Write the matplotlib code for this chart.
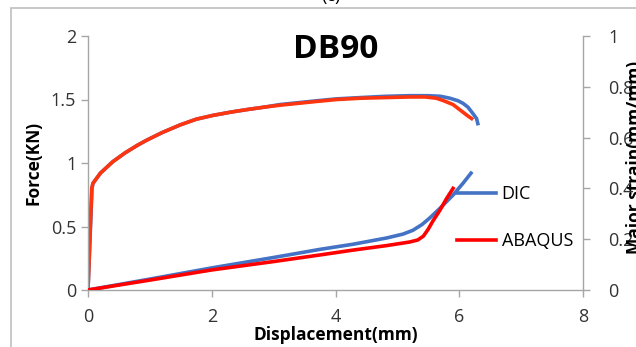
import matplotlib
matplotlib.use("Agg")
import matplotlib.pyplot as plt
from matplotlib.patches import Rectangle
from matplotlib.lines import Line2D

plt.rcParams['font.family'] = ['Open Sans', 'DejaVu Sans']

# Force-displacement curves (KN vs mm)
disp_force_dic = [0.0, 0.065, 0.08, 0.2, 0.4, 0.6, 0.8, 0.95, 1.2, 1.49, 1.75, 2.02, 2.3, 2.56,
                  2.85, 3.1, 3.4, 3.7, 4.02, 4.4, 4.8, 5.2, 5.5, 5.7, 5.85, 5.98, 6.06, 6.14,
                  6.22, 6.28, 6.30]
force_dic = [0.0, 0.80, 0.84, 0.92, 1.01, 1.08, 1.14, 1.18, 1.24, 1.30, 1.345, 1.375, 1.40, 1.42,
             1.44, 1.46, 1.475, 1.49, 1.505, 1.515, 1.525, 1.53, 1.53, 1.525, 1.51, 1.49, 1.47,
             1.44, 1.39, 1.35, 1.31]
disp_force_abaqus = [0.0, 0.06, 0.08, 0.2, 0.4, 0.6, 0.8, 0.95, 1.2, 1.49, 1.75, 2.02, 2.3, 2.56,
                     2.85, 3.1, 3.4, 3.7, 4.02, 4.4, 4.8, 5.2, 5.45, 5.63, 5.75, 5.90, 6.06,
                     6.14, 6.20]
force_abaqus = [0.0, 0.80, 0.84, 0.92, 1.01, 1.08, 1.14, 1.18, 1.24, 1.30, 1.345, 1.375, 1.40, 1.42,
                1.44, 1.455, 1.47, 1.485, 1.50, 1.51, 1.515, 1.52, 1.52, 1.51, 1.49, 1.46, 1.40,
                1.37, 1.35]

# Major strain-displacement curves (mm/mm vs mm)
disp_strain_dic = [0.0, 1.0, 2.0, 3.0, 3.75, 4.28, 4.83, 5.09, 5.25, 5.40, 5.53, 5.69, 5.90, 6.06,
                   6.19]
strain_dic = [0.0, 0.043, 0.087, 0.128, 0.160, 0.180, 0.205, 0.220, 0.235, 0.258, 0.285, 0.322,
              0.374, 0.420, 0.460]
disp_strain_abaqus = [0.0, 1.0, 2.0, 3.0, 3.75, 4.28, 4.83, 5.20, 5.33, 5.42, 5.50, 5.57, 5.69,
                      5.79, 5.90]
strain_abaqus = [0.0, 0.039, 0.079, 0.112, 0.138, 0.157, 0.175, 0.189, 0.197, 0.212, 0.240,
                 0.270, 0.315, 0.358, 0.400]

BLUE = '#4472C4'
RED_F = '#FF3510'
RED_S = '#FF0000'
GRAY = '#A6A6A6'

fig = plt.figure(figsize=(6.36, 3.47), dpi=100)

# outer chart frame
fig.patches.append(Rectangle((11 / 636, -0.1), 1.0, 1 - 8 / 347 + 0.1,
                             transform=fig.transFigure, fill=False,
                             edgecolor='#BFBFBF', linewidth=1.2))
fig.text(0.52, 1.012, '(c)', ha='center', va='center', fontsize=13, color='black')

ax = fig.add_axes([88 / 636, 1 - 290 / 347, (583 - 88) / 636, (290 - 36) / 347])
ax2 = ax.twinx()

lw = 2.6
ax.plot(disp_force_dic, force_dic, color=BLUE, lw=lw, solid_joinstyle='round')
ax.plot(disp_force_abaqus, force_abaqus, color=RED_F, lw=lw, solid_joinstyle='round')
ax2.plot(disp_strain_dic, strain_dic, color=BLUE, lw=lw, solid_joinstyle='round')
ax2.plot(disp_strain_abaqus, strain_abaqus, color=RED_S, lw=lw, solid_joinstyle='round')

ax.set_xlim(0, 8)
ax.set_ylim(0, 2)
ax2.set_ylim(0, 1)
ax.set_xticks([0, 2, 4, 6, 8])
ax.set_yticks([0, 0.5, 1, 1.5, 2])
ax.set_yticklabels(['0', '0.5', '1', '1.5', '2'])
ax2.set_yticks([0, 0.2, 0.4, 0.6, 0.8, 1])
ax2.set_yticklabels(['0', '0.2', '0.4', '0.6', '0.8', '1'])

for a in (ax, ax2):
    for s in a.spines.values():
        s.set_visible(False)
    a.tick_params(colors=GRAY, labelcolor='#333333', labelsize=13, length=5, width=1)
ax.spines['left'].set_visible(True)
ax.spines['bottom'].set_visible(True)
ax2.spines['right'].set_visible(True)
for s in (ax.spines['left'], ax.spines['bottom'], ax2.spines['right']):
    s.set_color(GRAY)
    s.set_linewidth(1)
ax.tick_params(axis='x', pad=8)
ax2.tick_params(axis='y', pad=13)

ax.set_xlabel('Displacement(mm)', fontsize=12.5, fontweight='bold', labelpad=0)
ax.set_ylabel('Force(KN)', fontsize=12.5, fontweight='bold', labelpad=6)
ax2.set_ylabel('Major strain(mm/mm)', fontsize=12.5, fontweight='bold', rotation=90)
ax2.yaxis.set_label_coords(1.086, 0.52)

ax.set_title('DB90', fontsize=24, fontweight='bold', y=0.88)

handles = [Line2D([], [], color=BLUE, lw=lw), Line2D([], [], color=RED_S, lw=lw)]
ax2.legend(handles, ['DIC', 'ABAQUS'], loc='upper left', bbox_to_anchor=(0.73, 0.44),
           frameon=False, fontsize=13, handlelength=2.2, handletextpad=0.3,
           labelspacing=1.6, borderaxespad=0)

fig.savefig('out.png', dpi=100)
